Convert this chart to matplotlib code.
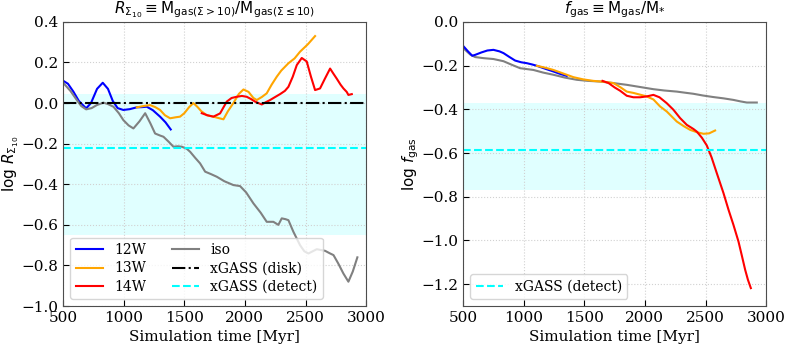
import matplotlib
matplotlib.use("Agg")
import matplotlib.pyplot as plt

plt.rcParams['font.family'] = ['DejaVu Serif']
plt.rcParams['mathtext.fontset'] = 'dejavusans'

# panel izquierdo: log R_Sigma10
t_12w_L = [500, 540, 585, 630, 690, 730, 780, 827, 870, 910, 950, 997, 1050, 1108, 1150, 1190, 1240, 1300, 1345, 1388]
r_12w = [0.11, 0.095, 0.056, 0.01, -0.026, 0.0, 0.07, 0.10, 0.07, 0.01, -0.025, -0.034, -0.03, -0.021, -0.02, -0.018, -0.035, -0.067, -0.095, -0.13]

t_13w_L = [1108, 1160, 1218, 1260, 1300, 1340, 1383, 1430, 1465, 1500, 1540, 1575, 1610, 1640, 1685, 1740, 1790, 1823,
           1860, 1905, 1950, 1988, 2030, 2070, 2098, 2140, 2180, 2220, 2263, 2300, 2359, 2410, 2455, 2520, 2579]
r_13w = [-0.021, -0.015, -0.01, -0.02, -0.034, -0.06, -0.075, -0.07, -0.067, -0.05, -0.02, 0.0, -0.02, -0.04, -0.06, -0.067,
         -0.075, -0.08, -0.04, 0.0, 0.045, 0.067, 0.055, 0.025, 0.015, 0.03, 0.048, 0.09, 0.13, 0.16, 0.196, 0.22, 0.253, 0.29, 0.33]

t_14w_L = [1644, 1690, 1740, 1795, 1850, 1890, 1933, 1975, 2015, 2050, 2084, 2139, 2175, 2208, 2250, 2290, 2330, 2359,
           2395, 2428, 2469, 2510, 2545, 2579, 2620, 2660, 2703, 2730, 2758, 2790, 2813, 2840, 2854, 2882]
r_14w = [-0.05, -0.06, -0.067, -0.051, 0.007, 0.025, 0.031, 0.035, 0.031, 0.02, 0.007, -0.007, 0.005, 0.015, 0.03, 0.044,
         0.06, 0.08, 0.13, 0.187, 0.222, 0.205, 0.13, 0.064, 0.072, 0.12, 0.17, 0.145, 0.12, 0.09, 0.072, 0.055, 0.04, 0.044]

t_iso_L = [500, 560, 613, 650, 690, 735, 778, 833, 870, 915, 960, 997, 1040, 1080, 1130, 1177, 1220, 1259, 1300, 1328,
           1370, 1410, 1445, 1479, 1520, 1548, 1590, 1630, 1672, 1720, 1768, 1830, 1905, 1960, 2010, 2070, 2130, 2180,
           2235, 2276, 2304, 2335, 2359, 2400, 2455, 2490, 2524, 2560, 2593, 2662, 2700, 2731, 2770, 2813, 2854, 2890, 2928]
r_iso = [0.1, 0.06, 0.015, -0.015, -0.031, -0.025, -0.01, 0.002, -0.005, -0.018, -0.05, -0.084, -0.11, -0.125, -0.09,
         -0.05, -0.1, -0.15, -0.16, -0.166, -0.19, -0.215, -0.213, -0.215, -0.225, -0.24, -0.27, -0.297, -0.338, -0.35,
         -0.363, -0.385, -0.404, -0.409, -0.44, -0.494, -0.54, -0.585, -0.585, -0.6, -0.568, -0.572, -0.577, -0.634,
         -0.7, -0.73, -0.741, -0.73, -0.72, -0.728, -0.74, -0.749, -0.79, -0.84, -0.88, -0.83, -0.76]

xgass_disk_R = 0.0
xgass_detect_R = -0.222
band_R = (-0.65, 0.044)

# panel dret: log f_gas
t_12w_R = [500, 540, 575, 599, 650, 700, 750, 800, 833, 880, 929, 980, 1025, 1070, 1108, 1180, 1245, 1300, 1355]
f_12w = [-0.11, -0.135, -0.155, -0.151, -0.14, -0.131, -0.128, -0.135, -0.143, -0.16, -0.177, -0.185, -0.189, -0.195,
         -0.201, -0.215, -0.227, -0.238, -0.247]

t_iso_R = [500, 560, 599, 668, 750, 833, 900, 970, 1080, 1160, 1245, 1340, 1438, 1530, 1630, 1740, 1850, 1960, 2070,
           2160, 2263, 2330, 2400, 2480, 2565, 2650, 2730, 2790, 2841, 2923]
f_iso = [-0.12, -0.15, -0.161, -0.166, -0.17, -0.18, -0.196, -0.212, -0.22, -0.232, -0.242, -0.255, -0.265, -0.27,
         -0.273, -0.28, -0.288, -0.298, -0.308, -0.314, -0.319, -0.324, -0.329, -0.337, -0.344, -0.35, -0.357, -0.364,
         -0.369, -0.369]

t_13w_R = [1108, 1180, 1245, 1330, 1410, 1490, 1575, 1660, 1740, 1800, 1850, 1905, 1960, 2015, 2070, 2125, 2180, 2263,
           2320, 2373, 2430, 2483, 2530, 2579]
f_13w = [-0.201, -0.21, -0.22, -0.237, -0.253, -0.263, -0.27, -0.274, -0.28, -0.3, -0.319, -0.325, -0.333, -0.341,
         -0.355, -0.387, -0.41, -0.456, -0.477, -0.494, -0.505, -0.512, -0.51, -0.497]

t_14w_R = [1650, 1700, 1750, 1795, 1850, 1905, 1960, 2015, 2070, 2120, 2180, 2235, 2290, 2345, 2400, 2428, 2470, 2510,
           2550, 2593, 2648, 2690, 2730, 2772, 2800, 2827, 2850, 2874]
f_14w = [-0.27, -0.28, -0.3, -0.315, -0.338, -0.345, -0.345, -0.341, -0.334, -0.345, -0.372, -0.402, -0.44, -0.471,
         -0.49, -0.502, -0.53, -0.565, -0.62, -0.692, -0.783, -0.86, -0.928, -1.005, -1.07, -1.134, -1.18, -1.218]

xgass_detect_f = -0.585
band_f = (-0.768, -0.372)

fig = plt.figure(figsize=(7.89, 3.47), dpi=100)
ax1 = fig.add_axes([0.080, 0.118, 0.384, 0.819])
ax2 = fig.add_axes([0.587, 0.118, 0.384, 0.819])

lw = 1.5
# esquerra
ax1.axhspan(band_R[0], band_R[1], color='lightcyan', zorder=0, lw=0)
ax1.plot(t_12w_L, r_12w, color='blue', lw=lw, label='12W')
ax1.plot(t_13w_L, r_13w, color='orange', lw=lw, label='13W')
ax1.plot(t_14w_L, r_14w, color='red', lw=lw, label='14W')
ax1.plot(t_iso_L, r_iso, color='gray', lw=lw, label='iso')
ax1.axhline(xgass_disk_R, color='k', ls='-.', lw=lw, label='xGASS (disk)')
ax1.axhline(xgass_detect_R, color='cyan', ls='--', lw=lw, label='xGASS (detect)')
ax1.set_xlim(500, 3000)
ax1.set_ylim(-1.0, 0.4)
ax1.set_title(r'$R_{\Sigma_{10}} \equiv \mathrm{M_{gas(\Sigma>10)}/M_{gas(\Sigma\leq10)}}$', fontsize=11)
ax1.set_ylabel(r'$\log\,R_{\Sigma_{10}}$', fontsize=11, labelpad=0)
ax1.set_xlabel('Simulation time [Myr]', fontsize=11)
ax1.legend(loc='lower left', ncol=2, fontsize=10, handlelength=2.0, columnspacing=1.8, borderpad=0.4,
           labelspacing=0.3)

# dreta
ax2.axhspan(band_f[0], band_f[1], color='lightcyan', zorder=0, lw=0)
ax2.plot(t_iso_R, f_iso, color='gray', lw=lw)
ax2.plot(t_12w_R, f_12w, color='blue', lw=lw)
ax2.plot(t_13w_R, f_13w, color='orange', lw=lw)
ax2.plot(t_14w_R, f_14w, color='red', lw=lw)
ax2.axhline(xgass_detect_f, color='cyan', ls='--', lw=lw, label='xGASS (detect)')
ax2.set_xlim(500, 3000)
ax2.set_ylim(-1.3, 0.0)
ax2.set_title(r'$f_{\rm gas} \equiv \mathrm{M_{gas}/M_{*}}$', fontsize=11)
ax2.set_ylabel(r'$\log\,f_{\rm gas}$', fontsize=11, labelpad=0)
ax2.set_xlabel('Simulation time [Myr]', fontsize=11)
ax2.legend(loc='lower left', fontsize=10, handlelength=2.0, borderpad=0.4)

for ax in (ax1, ax2):
    ax.set_xticks([500, 1000, 1500, 2000, 2500, 3000])
    ax.tick_params(direction='in', labelsize=11, length=4)
    ax.grid(True, ls=':', color='0.82', lw=0.8)
    ax.set_axisbelow(True)
    for s in ax.spines.values():
        s.set_color('0.3')

fig.savefig('out.png', dpi=100)
